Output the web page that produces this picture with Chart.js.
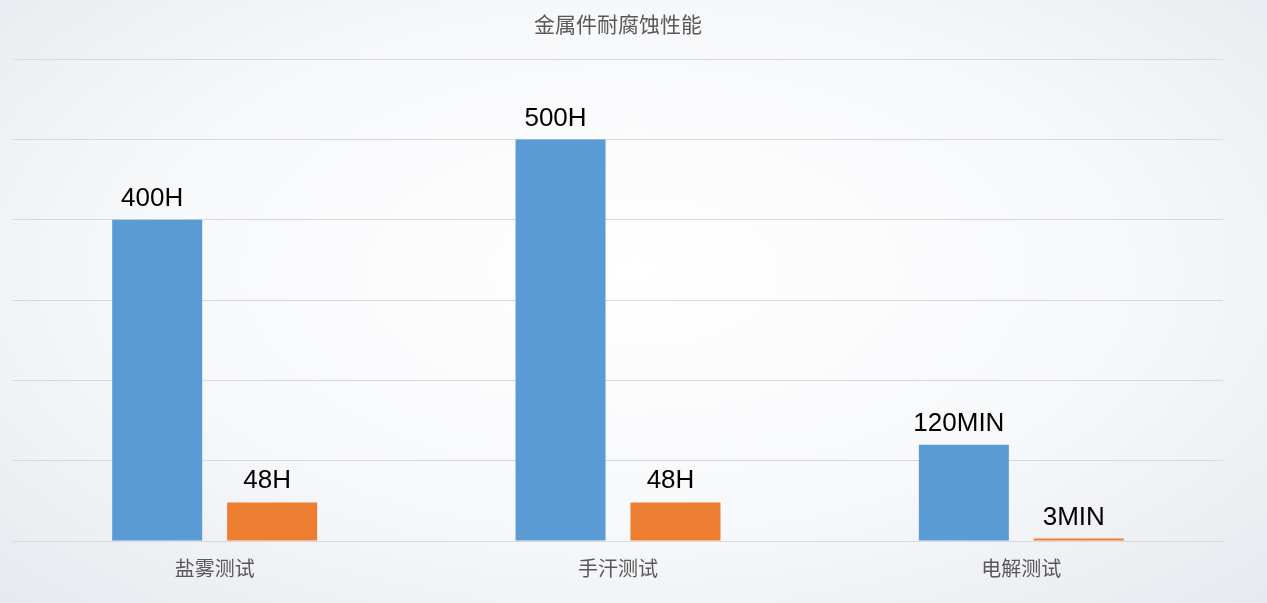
<!DOCTYPE html>
<html>
<head>
<meta charset="utf-8">
<script src="https://cdn.jsdelivr.net/npm/chart.js@4/dist/chart.umd.min.js"></script>
<style>
  html, body { margin: 0; padding: 0; }
  body {
    width: 1267px; height: 603px; overflow: hidden;
    background: radial-gradient(ellipse at 50% 45%, #ffffff 0%, #f7f8fa 55%, #e6e9ee 100%);
  }
  canvas { display: block; }
</style>
</head>
<body>
<canvas id="chart" width="1267" height="603"></canvas>
<script>
  const categories = ["盐雾测试", "手汗测试", "电解测试"];
  const blueValues = [400, 500, 120];
  const orangeValues = [48, 48, 3];
  const blueLabels = ["400H", "500H", "120MIN"];
  const orangeLabels = ["48H", "48H", "3MIN"];

  // text above each bar, like the data labels in the original
  const barLabels = {
    id: "barLabels",
    afterDatasetsDraw(chart) {
      const ctx = chart.ctx;
      ctx.save();
      ctx.font = "26px 'Liberation Sans', Arial, sans-serif";
      ctx.fillStyle = "#000000";
      ctx.textAlign = "center";
      ctx.textBaseline = "alphabetic";
      chart.data.datasets.forEach((ds, i) => {
        chart.getDatasetMeta(i).data.forEach((bar, j) => {
          ctx.fillText(ds.labelsText[j], bar.x - 5, bar.y - 14);
        });
      });
      ctx.restore();
    }
  };

  Chart.defaults.font.family = "'Noto Sans CJK SC', 'Liberation Sans', sans-serif";

  new Chart(document.getElementById("chart"), {
    type: "bar",
    data: {
      labels: categories,
      datasets: [
        {
          label: "A",
          data: blueValues,
          labelsText: blueLabels,
          backgroundColor: "#5b9bd5",
          categoryPercentage: 0.57,
          barPercentage: 0.783
        },
        {
          label: "B",
          data: orangeValues,
          labelsText: orangeLabels,
          backgroundColor: "#ed7d31",
          categoryPercentage: 0.57,
          barPercentage: 0.783
        }
      ]
    },
    options: {
      responsive: false,
      animation: false,
      layout: { padding: { left: 13, right: 44, top: 0, bottom: 8 } },
      plugins: {
        legend: { display: false },
        tooltip: { enabled: false },
        title: {
          display: true,
          text: "金属件耐腐蚀性能",
          color: "#595959",
          font: { size: 21, weight: "normal" },
          padding: { top: 11, bottom: 23 }
        }
      },
      scales: {
        x: {
          grid: { display: false, drawTicks: false },
          border: { display: false },
          ticks: { color: "#595959", font: { size: 20 }, padding: 15 }
        },
        y: {
          min: 0,
          max: 600,
          ticks: { stepSize: 100, display: false },
          grid: { color: "#d9d9d9", drawTicks: false },
          border: { display: false }
        }
      }
    },
    plugins: [barLabels]
  });
</script>
</body>
</html>
